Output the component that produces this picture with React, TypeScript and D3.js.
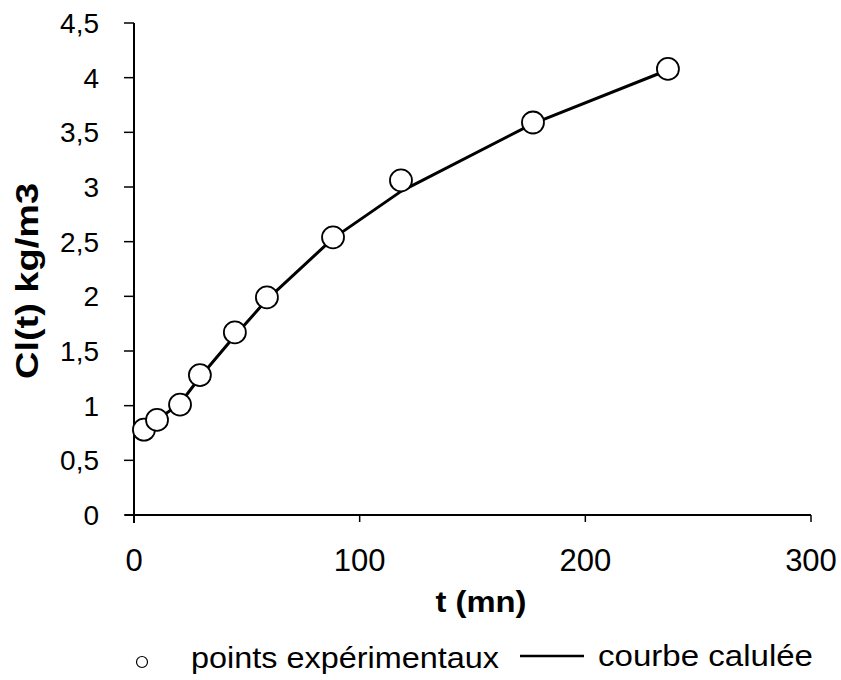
import React from "react";
import * as d3 from "d3";

const tExp = [4.4, 10.2, 20.4, 29.2, 44.7, 58.9, 88.2, 118.3, 176.8, 236.6];
const clExp = [0.78, 0.87, 1.01, 1.28, 1.67, 1.99, 2.54, 3.06, 3.59, 4.08];
const tCalc = [4.4, 10.2, 20.4, 29.2, 44.7, 58.9, 88.2, 118.3, 176.8, 236.6];
const clCalc = [0.78, 0.87, 1.02, 1.26, 1.64, 1.97, 2.53, 2.96, 3.58, 4.07];
const xTicks = [0, 100, 200, 300];
const yTicks = [0, 0.5, 1, 1.5, 2, 2.5, 3, 3.5, 4, 4.5];

const W = 841, H = 680;
const font = "'Liberation Sans', Arial, sans-serif";

export default function App() {
  const x = d3.scaleLinear().domain([0, 300]).range([134, 811]);
  const y = d3.scaleLinear().domain([0, 4.5]).range([515, 23]);
  const line = d3.line<number>().x((_, i) => x(tCalc[i])).y((d) => y(d));
  const fmt = (v: number) => String(v).replace(".", ",");
  return (
    <svg width={W} height={H} style={{ position: "absolute", left: 0, top: 0, background: "#fff" }}>
      <rect width={W} height={H} fill="#fff" />
      {/* axes */}
      <line x1={x(0)} x2={x(0)} y1={y(4.5)} y2={y(0) + 8} stroke="#000" strokeWidth={2} />
      <line x1={x(0) - 9} x2={x(300)} y1={y(0)} y2={y(0)} stroke="#000" strokeWidth={2} />
      {yTicks.map((v) => (
        <g key={v}>
          <line x1={x(0) - 10} x2={x(0)} y1={y(v)} y2={y(v)} stroke="#000" strokeWidth={1.5} />
          <text x={99} y={y(v)} dy="0.36em" textAnchor="end" fontFamily={font} fontSize={28}>
            {fmt(v)}
          </text>
        </g>
      ))}
      {xTicks.map((v) => (
        <g key={v}>
          <line x1={x(v)} x2={x(v)} y1={y(0)} y2={y(0) + 7} stroke="#000" strokeWidth={1.5} />
          <text x={x(v)} y={571} textAnchor="middle" fontFamily={font} fontSize={31}>
            {v}
          </text>
        </g>
      ))}
      <text
        x={481}
        y={612}
        textAnchor="middle"
        fontFamily={font}
        fontSize={29}
        fontWeight="bold"
        textLength={91}
        lengthAdjust="spacingAndGlyphs"
      >
        t (mn)
      </text>
      <text
        transform={`translate(38,281) rotate(-90)`}
        textAnchor="middle"
        fontFamily={font}
        fontSize={31}
        fontWeight="bold"
        textLength={196}
        lengthAdjust="spacingAndGlyphs"
      >
        Cl(t) kg/m3
      </text>
      {/* calculated curve */}
      <path d={line(clCalc) || ""} fill="none" stroke="#000" strokeWidth={3} strokeLinejoin="round" />
      {/* experimental points */}
      {clExp.map((v, i) => (
        <circle key={i} cx={x(tExp[i])} cy={y(v)} r={11} fill="#fff" stroke="#000" strokeWidth={1.8} />
      ))}
      {/* legend */}
      <circle cx={142} cy={662} r={5.5} fill="#fff" stroke="#000" strokeWidth={1.2} />
      <text x={191} y={668} fontFamily={font} fontSize={29} textLength={308} lengthAdjust="spacingAndGlyphs">
        points expérimentaux
      </text>
      <line x1={520} x2={584} y1={656} y2={656} stroke="#000" strokeWidth={2.5} />
      <text x={598} y={666} fontFamily={font} fontSize={29} textLength={215} lengthAdjust="spacingAndGlyphs">
        courbe calulée
      </text>
    </svg>
  );
}
